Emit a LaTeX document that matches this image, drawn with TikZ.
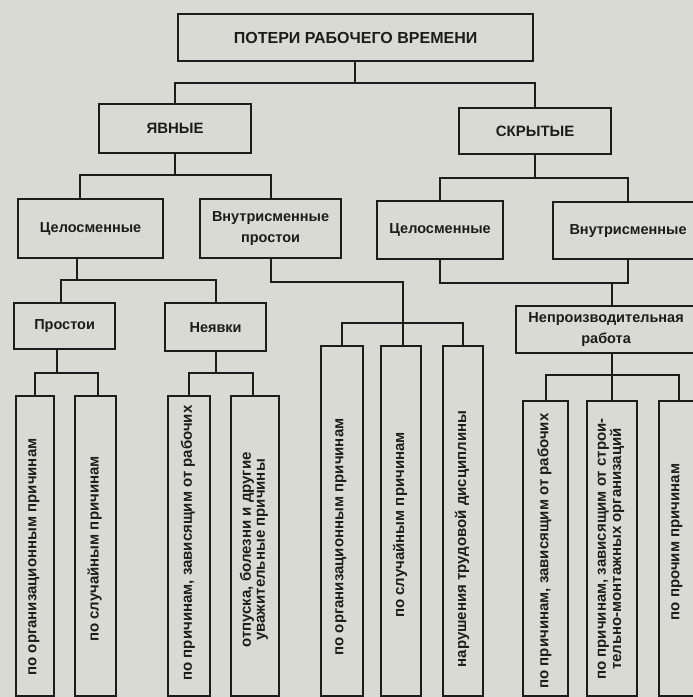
\documentclass[tikz,border=0pt]{standalone}
\usepackage{fontspec}
\setmainfont{Liberation Sans}
\usepackage{graphicx}
\definecolor{paper}{RGB}{218,218,213}
\definecolor{ink}{RGB}{28,28,28}
\tikzset{
  box/.style={draw=ink, line width=2.2pt, fill=paper, inner sep=0pt, anchor=north west,
    align=center, text=ink, font=\bfseries\fontsize{14.5}{21}\selectfont},
  vtext/.style={rotate=90, align=center, inner sep=0pt, text=ink,
    font=\bfseries\fontsize{15}{14}\selectfont},
  link/.style={draw=ink, line width=2.2pt, line cap=rect},
}
\begin{document}
\begin{tikzpicture}[x=1pt,y=-1pt]
\fill[paper] (0,0) rectangle (693,697);
\useasboundingbox (0,0) rectangle (693,697);

% level 0 / 1
\node[box, minimum width=355pt, minimum height=47pt, font=\bfseries\fontsize{16}{16}\selectfont] (top) at (177,13) {ПОТЕРИ РАБОЧЕГО ВРЕМЕНИ};
\node[box, minimum width=152pt, minimum height=49pt, font=\bfseries\fontsize{15}{16}\selectfont] (yav) at (98,103) {ЯВНЫЕ};
\node[box, minimum width=152pt, minimum height=46pt, font=\bfseries\fontsize{15}{16}\selectfont] (skr) at (458,107) {СКРЫТЫЕ};

% level 2
\node[box, minimum width=145pt, minimum height=59pt] (cel1) at (17,198) {Целосменные};
\node[box, minimum width=141pt, minimum height=59pt] (vnp) at (199,198) {Внутрисменные\\простои};
\node[box, minimum width=126pt, minimum height=58pt] (cel2) at (376,200) {Целосменные};
\node[box, minimum width=150pt, minimum height=57pt] (vnr) at (552,201) {Внутрисменные};

% level 3
\node[box, minimum width=101pt, minimum height=46pt] (prost) at (13,302) {Простои};
\node[box, minimum width=101pt, minimum height=48pt] (neyav) at (164,302) {Неявки};
\node[box, minimum width=180pt, minimum height=47pt] (nepr) at (515,305) {Непроизводительная\\работа};

% level 4 boxes
\node[box, minimum width=38pt, minimum height=300pt] (b1) at (15,395) {};
\node[box, minimum width=41pt, minimum height=300pt] (b2) at (74,395) {};
\node[box, minimum width=42pt, minimum height=300pt] (b3) at (167,395) {};
\node[box, minimum width=48pt, minimum height=300pt] (b4) at (230,395) {};
\node[box, minimum width=42pt, minimum height=350pt] (bA) at (320,345) {};
\node[box, minimum width=40pt, minimum height=350pt] (bB) at (380,345) {};
\node[box, minimum width=40pt, minimum height=350pt] (bC) at (442,345) {};
\node[box, minimum width=45pt, minimum height=295pt] (b5) at (522,400) {};
\node[box, minimum width=50pt, minimum height=295pt] (b6) at (586,400) {};
\node[box, minimum width=40pt, minimum height=295pt] (b7) at (658,400) {};

% vertical texts
\node[vtext] (t1) at (34,557) {по организационным причинам};
\node[vtext] (t2) at (94.5,549) {по случайным причинам};
\node[vtext] (t3) at (188,543) {по причинам, зависящим от рабочих};
\node[vtext] (t4) at (254,550) {отпуска, болезни и другие\\уважительные  причины};
\node[vtext] (tA) at (341,537) {по организационным причинам};
\node[vtext] (tB) at (400,525) {по случайным причинам};
\node[vtext] (tC) at (462,539) {нарушения трудовой дисциплины};
\node[vtext] (t5) at (544.5,551) {по причинам, зависящим от рабочих};
\node[vtext] (t6) at (611,549) {по причинам, зависящим от строи-\\тельно-монтажных организаций};
\node[vtext] (t7) at (677,542) {по прочим причинам};

% connectors level 1
\coordinate (j0) at (355,83);
\draw[link] (top.south -| j0) -- (j0);
\draw[link] (yav.north) |- (j0) -| (skr.north);

% level 2
\coordinate (j1) at (174,175);
\draw[link] (yav.south) -- (yav.south |- j1);
\draw[link] ([xshift=-11pt]cel1.north) |- (j1) -| (vnp.north);
\coordinate (j2) at (534,178);
\draw[link] (skr.south) -- (skr.south |- j2);
\draw[link] (cel2.north) |- (j2) -| (vnr.north);

% level 3
\coordinate (j3) at (77,280);
\draw[link] (cel1.south -| j3) -- (j3);
\draw[link] ([xshift=-4pt]prost.north) |- (j3) -| (neyav.north);
\coordinate (j4) at (403,282);
\coordinate (j5) at (403,323);
\draw[link] (vnp.south) |- (j4) -- (j4 |- bB.north);
\draw[link] (bA.north) |- (j5) -| (bC.north);
\coordinate (j6) at (612,283);
\draw[link] (cel2.south) |- (j6) -| (vnr.south);
\draw[link] (j6) -- (j6 |- nepr.north);

% level 4
\coordinate (j7) at (57,373);
\draw[link] (prost.south -| j7) -- (j7);
\draw[link] (b1.north) |- (j7) -| ([xshift=2pt]b2.north);
\coordinate (j8) at (215,373);
\draw[link] (neyav.south) |- (j8);
\draw[link] (b3.north) |- (j8) -| ([xshift=-2pt]b4.north);
\coordinate (j9) at (612,375);
\draw[link] (nepr.south -| j9) -- (j9);
\draw[link] (b5.north) |- (j9) -| (b7.north);
\draw[link] (j9) -- (j9 |- b6.north);
\end{tikzpicture}
\end{document}
